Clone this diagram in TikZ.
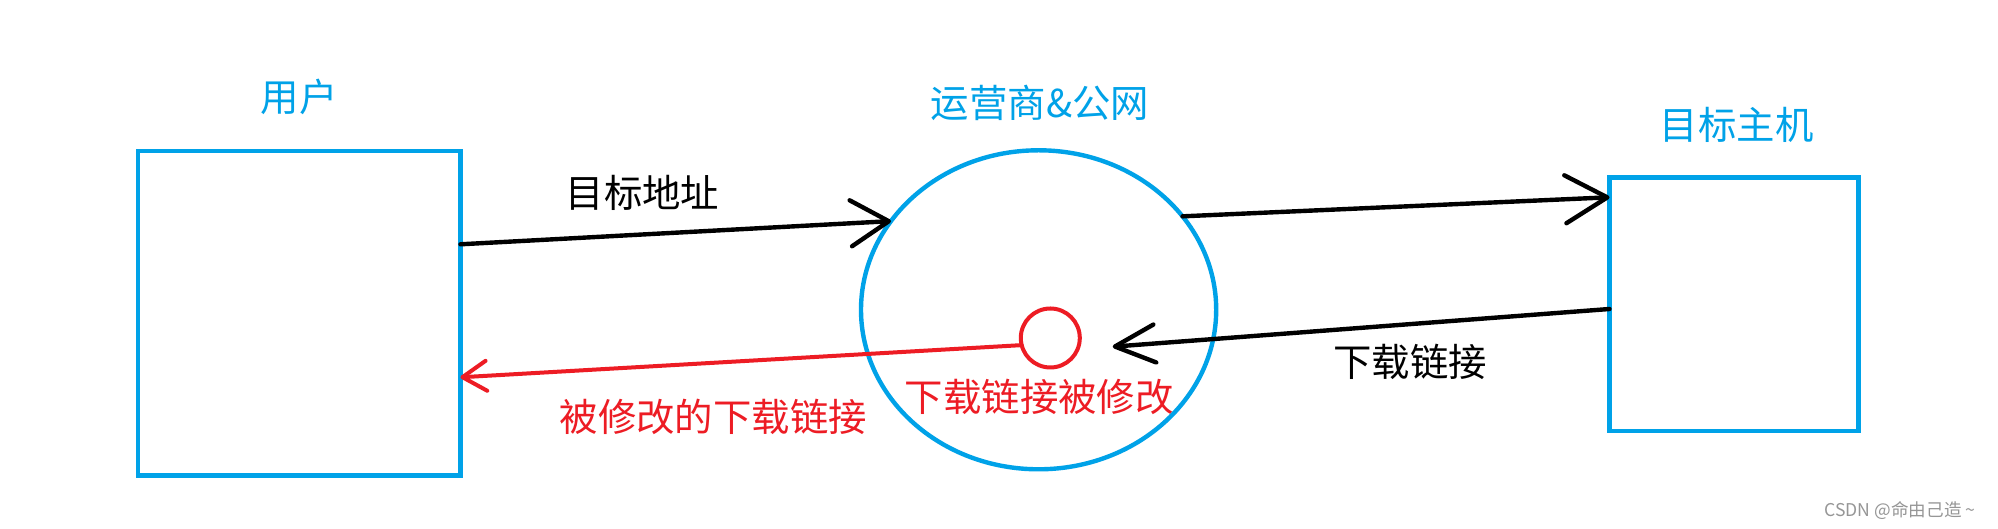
\documentclass[tikz,border=0pt]{standalone}
\usepackage{fontspec}
\setmainfont{Noto Sans CJK SC}
\usetikzlibrary{shapes.geometric}
\usetikzlibrary{arrows.meta}

\begin{document}
\begin{tikzpicture}[x=1pt,y=1pt,
  box/.style={draw=lineBlue,line width=2.2pt,inner sep=0pt,outer sep=0pt},
  lbl/.style={inner sep=0pt,outer sep=0pt,font=\fontsize{19.2pt}{21pt}\selectfont},
  flow/.style={draw=black,line width=2.2pt,line cap=round,-{Straight Barb[length=19pt,width=23pt,round]}}]
\definecolor{lineBlue}{RGB}{0,162,232}
\definecolor{lineRed}{RGB}{237,28,36}
\definecolor{markGray}{RGB}{150,150,150}
\path[use as bounding box,fill=white] (0,0) rectangle (999,264.5);

% the three parties
\node[box,minimum width=161.25pt,minimum height=162.25pt] (user) at (149.6,107.9) {};
\node[box,ellipse,minimum width=177.6pt,minimum height=159.5pt] (isp) at (519.3,109.6) {};
\node[box,minimum width=124.4pt,minimum height=126.85pt] (host) at (866.95,112.3) {};
\node[draw=lineRed,line width=2pt,circle,inner sep=0pt,outer sep=0pt,minimum size=29.5pt] (mod) at (525.15,95.5) {};

\node[lbl,text=lineBlue] (userName) at (149.5,216.15) {用户};
\node[lbl,text=lineBlue] (ispName) at (520,213.15) {运营商\&公网};
\node[lbl,text=lineBlue] (hostName) at (868.35,202) {目标主机};

% requests and answers
\draw[flow] ([yshift=34.45pt]user.east) -- (isp.149);
\draw[flow,-{Straight Barb[length=21pt,width=24pt,round]}] (isp.33) -- ([yshift=53.55pt]host.west);
\coordinate (hit) at (556.35,91.15);
\draw[flow,-{Straight Barb[length=20pt,width=19pt,round]}] ([yshift=-2.3pt]host.west) -- (hit);
\draw[flow,draw=lineRed,line width=2pt,-{Straight Barb[length=12pt,width=15pt,round]}] (mod.194) -- ([yshift=-32.05pt]user.east);

\node[lbl] (addrText) at (321.25,167.85) {目标地址};
\node[lbl] (linkText) at (705,83.65) {下载链接};
\node[lbl,text=lineRed] (fakeText) at (356.65,56.15) {被修改的下载链接};
\node[lbl,text=lineRed] (modText) at (519.65,66.15) {下载链接被修改};

\node[inner sep=0pt,text=markGray,font=\fontsize{8.8pt}{10pt}\selectfont] (mark) at (950,9) {CSDN @命由己造 \textasciitilde};
\end{tikzpicture}
\end{document}
